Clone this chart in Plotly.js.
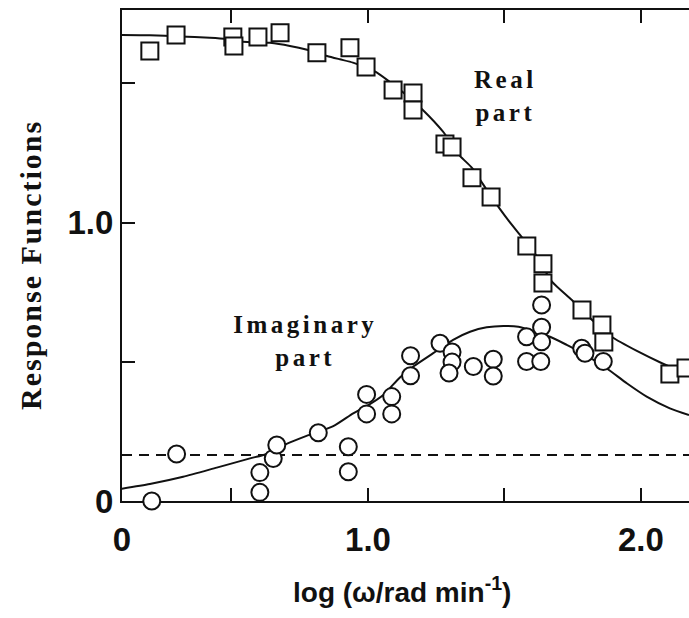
<!DOCTYPE html>
<html>
<head>
<meta charset="utf-8">
<script src="https://cdn.plot.ly/plotly-3.0.1.min.js"></script>
<style>
  html, body { margin: 0; padding: 0; background: #fff; }
  #chart { width: 689px; height: 618px; overflow: hidden; }
  .annotation[data-index="0"] text, .annotation[data-index="1"] text { letter-spacing: 3.5px; }
  .annotation[data-index="2"] text { letter-spacing: 2px; }
</style>
</head>
<body>
<div id="chart"></div>
<script>
// ---- Data ----
// Real part (squares)
const realX = [0.201, 0.297, 0.505, 0.509, 0.597, 0.678, 0.813, 0.934, 0.993, 1.092, 1.165, 1.165, 1.282, 1.308, 1.381, 1.451, 1.582, 1.641, 1.641, 1.784, 1.857, 1.864, 2.106, 2.165];
const realY = [1.617, 1.674, 1.667, 1.635, 1.667, 1.682, 1.610, 1.628, 1.559, 1.477, 1.466, 1.405, 1.283, 1.272, 1.161, 1.092, 0.916, 0.852, 0.783, 0.686, 0.632, 0.571, 0.456, 0.478];

// Imaginary part (circles)
const imagX = [0.208, 0.299, 0.604, 0.604, 0.653, 0.666, 0.818, 0.928, 0.928, 0.995, 0.995, 1.087, 1.087, 1.156, 1.156, 1.264, 1.308, 1.308, 1.297, 1.386, 1.459, 1.459, 1.581, 1.581, 1.636, 1.636, 1.636, 1.633, 1.783, 1.795, 1.862];
const imagY = [0.000, 0.169, 0.031, 0.102, 0.153, 0.201, 0.245, 0.195, 0.105, 0.383, 0.313, 0.375, 0.313, 0.522, 0.450, 0.567, 0.535, 0.499, 0.460, 0.483, 0.509, 0.449, 0.590, 0.501, 0.704, 0.624, 0.572, 0.501, 0.549, 0.531, 0.501];

// Fitted curve for the real part
const realCurveX = [0.099, 0.201, 0.311, 0.421, 0.484, 0.542, 0.641, 0.714, 0.777, 0.850, 0.897, 0.945, 0.996, 1.033, 1.070, 1.136, 1.201, 1.275, 1.337, 1.381, 1.447, 1.513, 1.557, 1.612, 1.674, 1.747, 1.821, 1.894, 1.985, 2.077, 2.150, 2.176];
const realCurveY = [1.674, 1.673, 1.669, 1.664, 1.659, 1.650, 1.646, 1.635, 1.621, 1.599, 1.587, 1.575, 1.556, 1.539, 1.513, 1.462, 1.405, 1.327, 1.240, 1.197, 1.100, 1.010, 0.956, 0.888, 0.788, 0.722, 0.650, 0.589, 0.539, 0.495, 0.465, 0.460];

// Fitted curve for the imaginary part
const imagCurveX = [0.098, 0.201, 0.323, 0.446, 0.568, 0.629, 0.702, 0.775, 0.873, 0.946, 0.995, 1.056, 1.117, 1.166, 1.239, 1.312, 1.374, 1.435, 1.496, 1.551, 1.667, 1.728, 1.777, 1.874, 1.948, 2.021, 2.106, 2.176];
const imagCurveY = [0.044, 0.061, 0.087, 0.120, 0.153, 0.169, 0.205, 0.234, 0.269, 0.315, 0.341, 0.381, 0.444, 0.483, 0.531, 0.579, 0.608, 0.624, 0.629, 0.626, 0.590, 0.561, 0.536, 0.477, 0.423, 0.375, 0.333, 0.309];

// Dashed reference level
const dashX = [0.099, 2.176];
const dashY = [0.165, 0.165];

// Axis ticks (labelled major ticks; unlabelled ticks every 0.5)
const xTickVals = [0.099, 1.0, 2.0];
const xTickText = ['0', '1.0', '2.0'];
const yTickVals = [0, 1.0];
const yTickText = ['0', '1.0'];
const yRightTicks = [0, 0.5, 1.0, 1.5];

// Text
const xTitle = 'log (\u03c9/rad min<sup>-1</sup>)';
const yTitle = 'Response Functions';
const realLabel = 'Real<br>part';
const imagLabel = 'Imaginary<br>part';

// ---- Plot ----
const black = '#111';
const traces = [
  { x: dashX, y: dashY, mode: 'lines', line: { color: black, width: 2, dash: '10px,7px' }, hoverinfo: 'skip' },
  { x: realCurveX, y: realCurveY, mode: 'lines', line: { color: black, width: 2, shape: 'spline', smoothing: 0.6 } },
  { x: imagCurveX, y: imagCurveY, mode: 'lines', line: { color: black, width: 2, shape: 'spline', smoothing: 0.6 } },
  { x: realX, y: realY, mode: 'markers', cliponaxis: false,
    marker: { symbol: 'square', size: 17, color: '#fff', line: { color: black, width: 2 } } },
  { x: imagX, y: imagY, mode: 'markers', cliponaxis: false,
    marker: { symbol: 'circle', size: 17, color: '#fff', line: { color: black, width: 2 } } }
];

const tickFont = { family: 'Liberation Sans, Arial, sans-serif', size: 33, color: black, weight: 'bold' };
const minorTicks = { ticks: 'inside', ticklen: 13, tickwidth: 2, tickcolor: black, tick0: 0, dtick: 0.5, showgrid: false };

const layout = {
  width: 689, height: 618,
  margin: { l: 122, r: 0, t: 10, b: 117, pad: 0 },
  paper_bgcolor: '#fff', plot_bgcolor: '#fff',
  showlegend: false,
  xaxis: {
    range: [0.099, 2.176], showgrid: false, zeroline: false,
    showline: true, linecolor: black, linewidth: 2, mirror: 'ticks',
    ticks: 'inside', ticklen: 13, tickwidth: 2, tickcolor: black,
    tickmode: 'array', tickvals: xTickVals, ticktext: xTickText,
    minor: minorTicks,
    tickfont: tickFont, ticklabelstandoff: 8, layer: 'below traces'
  },
  yaxis: {
    range: [0, 1.764], showgrid: false, zeroline: false,
    showline: true, linecolor: black, linewidth: 2,
    ticks: 'inside', ticklen: 13, tickwidth: 2, tickcolor: black,
    tickmode: 'array', tickvals: yTickVals, ticktext: yTickText,
    minor: minorTicks,
    tickfont: tickFont, ticklabelstandoff: 0, layer: 'below traces'
  },
  yaxis2: {
    overlaying: 'y', side: 'right', anchor: 'x',
    range: [0, 1.764], showgrid: false, zeroline: false, showline: false,
    ticks: 'inside', ticklen: 13, tickwidth: 2, tickcolor: black,
    tickmode: 'array', tickvals: yRightTicks, showticklabels: false
  },
  annotations: [
    { text: realLabel, xref: 'paper', yref: 'paper', x: (505 - 122) / 567, y: (501 - 96) / 491,
      xanchor: 'center', yanchor: 'middle', showarrow: false, align: 'center',
      font: { family: 'Liberation Serif, Times New Roman, serif', size: 25, color: black, weight: 'bold' } },
    { text: imagLabel, xref: 'paper', yref: 'paper', x: (305 - 122) / 567, y: (501 - 341) / 491,
      xanchor: 'center', yanchor: 'middle', showarrow: false, align: 'center',
      font: { family: 'Liberation Serif, Times New Roman, serif', size: 25, color: black, weight: 'bold' } },
    { text: yTitle, xref: 'paper', yref: 'paper', x: 0, y: (501 - 265) / 491, xshift: -92,
      xanchor: 'center', yanchor: 'middle', showarrow: false, textangle: -90,
      font: { family: 'Liberation Serif, Times New Roman, serif', size: 30, color: black, weight: 'bold' } },
    { text: xTitle, xref: 'paper', yref: 'paper', x: (402 - 122) / 567, y: 0, yshift: -89,
      xanchor: 'center', yanchor: 'middle', showarrow: false,
      font: { family: 'Liberation Sans, Arial, sans-serif', size: 28, color: black, weight: 'bold' } }
  ]
};

Plotly.newPlot('chart', traces, layout, { displayModeBar: false, staticPlot: true });
</script>
</body>
</html>
